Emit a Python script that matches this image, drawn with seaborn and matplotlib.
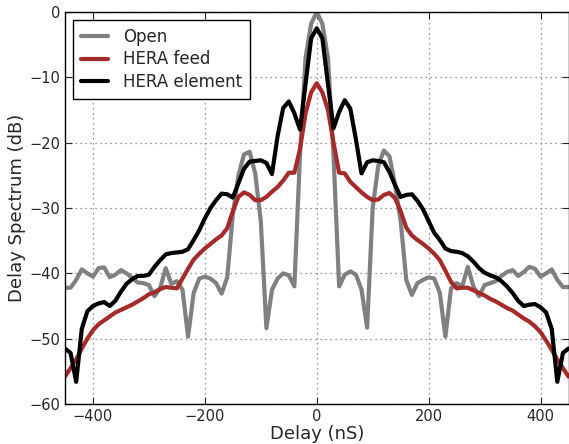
import numpy as np
import pandas as pd
import matplotlib
matplotlib.use("Agg")
import matplotlib.pyplot as plt
import seaborn as sns

delay = list(range(-450, 451, 10))

open_db = [
    -42.2, -42.2, -41.0, -39.4, -40.0, -40.5, -39.2, -39.1, -40.6, -40.2,
    -39.5, -40.0, -40.7, -41.4, -41.5, -41.8, -43.5, -42.3, -39.2, -41.6,
    -41.2, -42.5, -49.7, -43.0, -40.8, -40.5, -40.8, -41.5, -43.1, -40.6,
    -31.0, -25.0, -21.8, -21.4, -24.7, -32.0, -48.4, -42.5, -40.8, -40.0,
    -40.3, -42.0, -22.0, -7.0, -1.8, 0.0,
    -1.8, -7.0, -22.0, -42.0, -40.2, -39.7, -40.2, -42.5, -48.3, -30.0,
    -23.5, -21.2, -22.1, -26.5, -32.0, -41.0, -43.3, -41.5, -41.0, -40.6,
    -40.8, -43.0, -49.7, -42.3, -41.5, -42.0, -39.0, -42.0, -43.5, -41.8,
    -41.5, -41.2, -40.4, -39.8, -39.5, -40.4, -39.8, -39.0, -39.3, -40.5,
    -40.0, -39.4, -41.0, -42.1, -42.1,
]

feed_db = [
    -55.8, -54.5, -53.2, -51.5, -50.0, -48.7, -47.8, -47.2, -46.6, -46.0,
    -45.6, -45.2, -44.8, -44.3, -43.8, -43.2, -42.9, -42.4, -42.1, -42.2,
    -42.3, -40.8, -39.3, -37.9, -37.0, -36.2, -35.5, -34.8, -34.2, -33.1,
    -30.5, -28.3, -27.6, -28.0, -28.8, -28.8, -28.3, -27.5, -26.8, -25.8,
    -24.6, -24.6, -21.0, -15.5, -12.3, -10.9,
    -12.3, -15.0, -20.0, -24.6, -24.7, -26.0, -26.8, -27.6, -28.3, -28.8,
    -28.7, -28.0, -27.7, -28.5, -30.5, -33.0, -34.2, -34.9, -35.5, -36.2,
    -37.0, -38.0, -39.6, -41.3, -42.3, -42.2, -42.2, -42.6, -43.0, -43.4,
    -43.9, -44.3, -44.8, -45.3, -45.7, -46.3, -46.9, -47.4, -48.1, -49.0,
    -50.3, -51.7, -53.2, -54.5, -55.8,
]

element_db = [
    -51.5, -52.2, -56.6, -48.5, -45.8, -45.0, -44.6, -44.4, -45.0, -44.2,
    -42.8, -41.6, -40.9, -40.4, -40.4, -40.2, -39.0, -38.0, -37.1, -36.9,
    -36.8, -36.7, -36.3, -34.9, -33.4, -31.6, -30.0, -28.8, -27.8, -27.9,
    -28.4, -26.2, -24.0, -22.9, -22.8, -22.7, -23.1, -24.8, -19.0, -14.7,
    -13.7, -15.5, -18.0, -11.0, -4.0, -2.5,
    -4.0, -11.0, -17.8, -15.3, -13.5, -14.8, -19.5, -24.7, -23.0, -22.7,
    -22.8, -23.0, -24.5, -26.5, -28.3, -28.0, -27.9, -28.9, -30.2, -32.0,
    -33.8, -34.9, -36.2, -36.6, -36.7, -36.9, -37.4, -38.2, -39.2, -39.9,
    -40.3, -40.6, -41.2, -42.0, -43.0, -44.2, -45.0, -44.8, -44.7, -45.2,
    -46.0, -48.5, -56.6, -52.2, -51.5,
]

series_names = ["Open", "HERA feed", "HERA element"]
series_colors = ["#808080", "#a52a2a", "#000000"]

df = pd.concat([
    pd.DataFrame({"Delay": delay, "dB": open_db, "series": series_names[0]}),
    pd.DataFrame({"Delay": delay, "dB": feed_db, "series": series_names[1]}),
    pd.DataFrame({"Delay": delay, "dB": element_db, "series": series_names[2]}),
], ignore_index=True)

sns.set_style("ticks")
plt.rcParams["font.family"] = ["DejaVu Sans"]
plt.rcParams["xtick.direction"] = "in"
plt.rcParams["ytick.direction"] = "in"

fig = plt.figure(figsize=(5.69, 4.44), dpi=100)
ax = fig.add_axes([65 / 569, 1 - 404 / 444, 503.5 / 569, 392 / 444])

sns.lineplot(data=df, x="Delay", y="dB", hue="series", hue_order=series_names,
             palette=dict(zip(series_names, series_colors)), linewidth=3,
             ax=ax, legend=True, sort=False)

ax.set_xlim(-450, 450)
ax.set_ylim(-60, 0)
ax.set_xticks([-400, -200, 0, 200, 400])
ax.set_yticks([0, -10, -20, -30, -40, -50, -60])
ax.tick_params(axis="both", which="both", direction="in", top=True, right=True,
               labelsize=10.5, length=5, width=0.8)
ax.grid(True, linestyle=(0, (1, 3)), color="#777777", linewidth=0.9)
for s in ax.spines.values():
    s.set_linewidth(1.0)
    s.set_color("black")
ax.set_xlabel("Delay (nS)", fontsize=13, labelpad=1)
ax.set_ylabel("Delay Spectrum (dB)", fontsize=13, labelpad=2)

leg = ax.legend(loc="upper left", fontsize=12, frameon=True, fancybox=False,
                edgecolor="black", framealpha=1, handlelength=1.6,
                labelspacing=0.28, handletextpad=0.95, borderpad=0.45)
leg.get_frame().set_linewidth(1.0)

fig.savefig("out.png", dpi=100)
